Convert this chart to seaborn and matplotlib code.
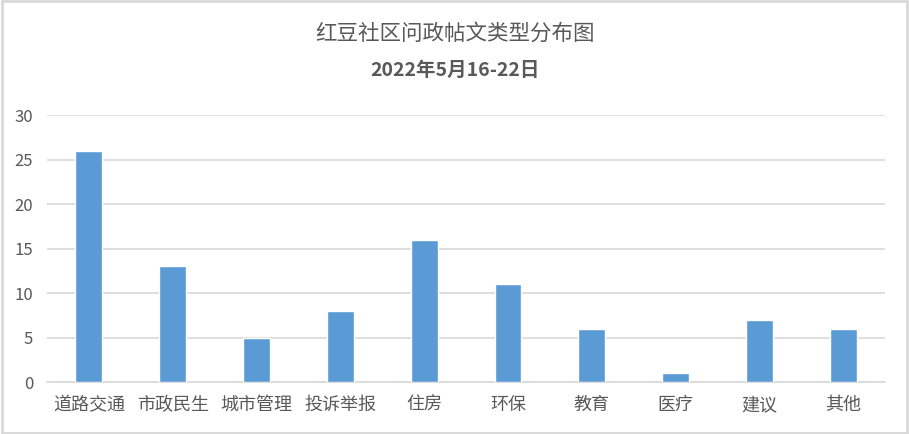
import matplotlib
matplotlib.use('Agg')
import matplotlib.pyplot as plt
import seaborn as sns
import pandas as pd
from matplotlib.patches import Rectangle

# 帖文类型与数量
categories = ['道路交通', '市政民生', '城市管理', '投诉举报', '住房',
              '环保', '教育', '医疗', '建议', '其他']
counts = [26, 13, 5, 8, 16, 11, 6, 1, 7, 6]
yticks = [0, 5, 10, 15, 20, 25, 30]

title_1 = '红豆社区问政帖文类型分布图'
title_2 = '2022年5月16-22日'

df = pd.DataFrame({'类型': categories, '数量': counts})

sns.set_theme(style='white')
plt.rcParams['font.family'] = ['Noto Sans CJK SC', 'DejaVu Sans']

fig = plt.figure(figsize=(9.09, 4.34), dpi=100)
ax = fig.add_axes([0.0517, 0.1198, 0.922, 0.615])

sns.barplot(data=df, x='类型', y='数量', color='#5b9bd5', saturation=1,
            width=0.32, ax=ax, zorder=3)

ax.set_ylim(0, 30)
ax.set_xlim(-0.5, len(categories) - 0.5)
ax.set_yticks(yticks)
ax.yaxis.grid(True, color='#d9d9d9', linewidth=1.2, zorder=0)
ax.set_axisbelow(True)
for s in ['top', 'right', 'left']:
    ax.spines[s].set_visible(False)
ax.spines['bottom'].set_color('#d9d9d9')
ax.spines['bottom'].set_linewidth(1.2)
ax.set_xlabel('')
ax.set_ylabel('')
ax.tick_params(axis='x', length=0, pad=10, labelsize=13, labelcolor='#595959')
ax.tick_params(axis='y', length=0, pad=10, labelsize=12, labelcolor='#595959')

fig.text(0.5, 0.922, title_1, ha='center', va='center', fontsize=15.5,
         color='#595959')
fig.text(0.5, 0.838, title_2, ha='center', va='center', fontsize=14,
         color='#595959', weight='bold')

# 外框
fig.patches.append(Rectangle((0.002, 0.003), 0.996, 0.994, transform=fig.transFigure,
                             fill=False, edgecolor='#d9d9d9', linewidth=2))

fig.savefig('out.png', dpi=100)
